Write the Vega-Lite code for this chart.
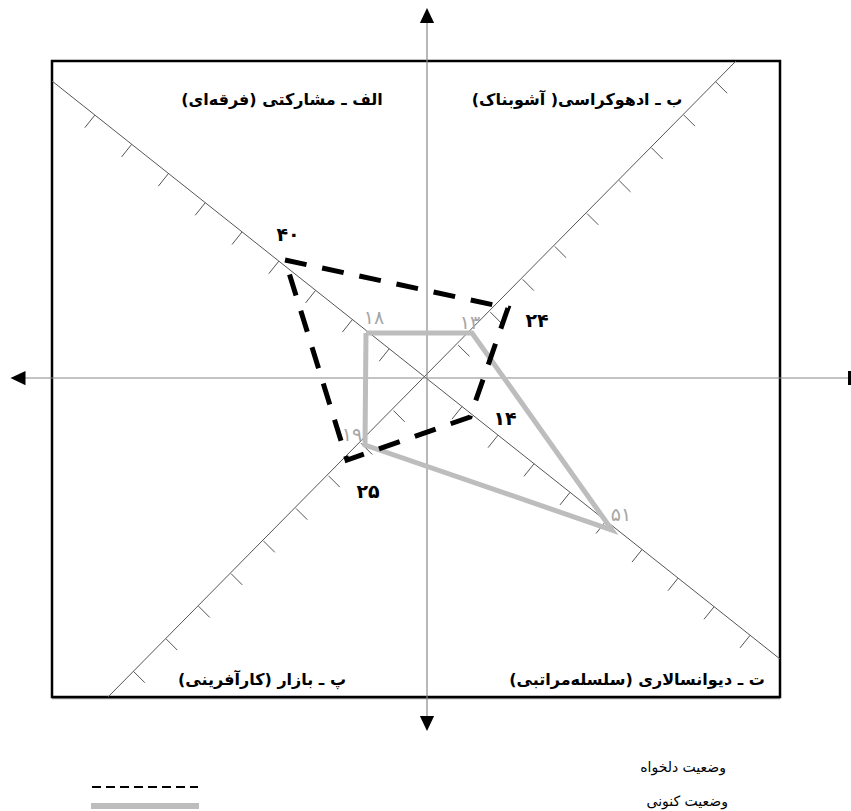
{
  "$schema": "https://vega.github.io/schema/vega-lite/v6.json",
  "width": 851,
  "height": 811,
  "autosize": {"type": "fit", "contains": "padding"},
  "padding": 0,
  "background": "white",
  "config": {"view": {"stroke": null}},
  "datasets": {
    "box": [{"x": -374, "y": 317, "x2": 354, "y2": -319}],
    "boxShadow": [{"x": -374, "y": -320.5, "x2": 354, "y2": -320.5}],
    "axes": [
      {"x": 1, "y": 355, "x2": 1, "y2": -338},
      {"x": -401, "y": 0, "x2": 423, "y2": 0}
    ],
    "endbar": [{"x": 423.5, "y": -7, "x2": 423.5, "y2": 7}],
    "arrows": [
      {"x": 1, "y": 362.5, "dir": "up"},
      {"x": 1, "y": -345.5, "dir": "down"},
      {"x": -408, "y": 0, "dir": "left"}
    ],
    "diag": [
      {"x": -374, "y": 297, "x2": 354, "y2": -281},
      {"x": -318, "y": -319, "x2": 310, "y2": 317},
      {"x": -36.8, "y": 29.2, "x2": -46.8, "y2": 16.7},
      {"x": -73.6, "y": 58.4, "x2": -83.6, "y2": 45.9},
      {"x": -110.4, "y": 87.6, "x2": -120.4, "y2": 75.1},
      {"x": -147.2, "y": 116.8, "x2": -157.2, "y2": 104.3},
      {"x": -184, "y": 146, "x2": -194, "y2": 133.5},
      {"x": -220.8, "y": 175.2, "x2": -230.8, "y2": 162.7},
      {"x": -257.6, "y": 204.4, "x2": -267.6, "y2": 191.9},
      {"x": -294.4, "y": 233.6, "x2": -304.4, "y2": 221.1},
      {"x": -331.2, "y": 262.8, "x2": -341.2, "y2": 250.3},
      {"x": 36, "y": -28.6, "x2": 26, "y2": -41.1},
      {"x": 72, "y": -57.2, "x2": 62, "y2": -69.7},
      {"x": 108, "y": -85.8, "x2": 98, "y2": -98.3},
      {"x": 144, "y": -114.4, "x2": 134, "y2": -126.9},
      {"x": 180, "y": -143, "x2": 170, "y2": -155.5},
      {"x": 216, "y": -171.6, "x2": 206, "y2": -184.1},
      {"x": 252, "y": -200.2, "x2": 242, "y2": -212.7},
      {"x": 288, "y": -228.8, "x2": 278, "y2": -241.3},
      {"x": 324, "y": -257.4, "x2": 314, "y2": -269.9},
      {"x": 32.2, "y": 32.9, "x2": 43.5, "y2": 21.6},
      {"x": 64.4, "y": 65.8, "x2": 75.7, "y2": 54.5},
      {"x": 96.6, "y": 98.7, "x2": 107.9, "y2": 87.4},
      {"x": 128.8, "y": 131.6, "x2": 140.1, "y2": 120.3},
      {"x": 161, "y": 164.5, "x2": 172.3, "y2": 153.2},
      {"x": 193.2, "y": 197.4, "x2": 204.5, "y2": 186.1},
      {"x": 225.4, "y": 230.3, "x2": 236.7, "y2": 219},
      {"x": 257.6, "y": 263.2, "x2": 268.9, "y2": 251.9},
      {"x": 289.8, "y": 296.1, "x2": 301.1, "y2": 284.8},
      {"x": -32.5, "y": -32.6, "x2": -21.2, "y2": -43.9},
      {"x": -65, "y": -65.2, "x2": -53.7, "y2": -76.5},
      {"x": -97.5, "y": -97.8, "x2": -86.2, "y2": -109.1},
      {"x": -130, "y": -130.4, "x2": -118.7, "y2": -141.7},
      {"x": -162.5, "y": -163, "x2": -151.2, "y2": -174.3},
      {"x": -195, "y": -195.6, "x2": -183.7, "y2": -206.9},
      {"x": -227.5, "y": -228.2, "x2": -216.2, "y2": -239.5},
      {"x": -260, "y": -260.8, "x2": -248.7, "y2": -272.1},
      {"x": -292.5, "y": -293.4, "x2": -281.2, "y2": -304.7}
    ],
    "current": [
      {"o": 1, "x": -60, "y": 45, "v": 18},
      {"o": 2, "x": 46, "y": 45, "v": 13},
      {"o": 3, "x": 186, "y": -152, "v": 51},
      {"o": 4, "x": -61, "y": -67, "v": 19},
      {"o": 5, "x": -60, "y": 45, "v": 18}
    ],
    "desired": [
      {"o": 1, "x": -141, "y": 118, "v": 40},
      {"o": 2, "x": 82, "y": 70, "v": 24},
      {"o": 3, "x": 44, "y": -39, "v": 14},
      {"o": 4, "x": -79, "y": -82, "v": 25},
      {"o": 5, "x": -141, "y": 118, "v": 40}
    ],
    "numsBlack": [
      {"x": -138, "y": 143, "t": "۴۰"},
      {"x": 111, "y": 57, "t": "۲۴"},
      {"x": 79, "y": -41, "t": "۱۴"},
      {"x": -58, "y": -114, "t": "۲۵"}
    ],
    "numsGray": [
      {"x": -52, "y": 60, "t": "۱۸"},
      {"x": 44, "y": 55, "t": "۱۳"},
      {"x": -74, "y": -57, "t": "۱۹"},
      {"x": 195, "y": -137, "t": "۵۱"}
    ],
    "cats": [
      {"x": -144, "y": 278, "t": "الف ـ مشارکتی (فرقه‌ای)"},
      {"x": 151, "y": 278, "t": "ب ـ ادهوکراسی( آشوبناک)"},
      {"x": -164, "y": -302, "t": "پ ـ بازار  (کارآفرینی)"},
      {"x": 211, "y": -302, "t": "ت ـ دیوانسالاری (سلسله‌مراتبی)"}
    ],
    "legendText": [
      {"x": 300, "y": -390, "t": "وضعیت دلخواه"},
      {"x": 302, "y": -424, "t": "وضعیت کنونی"}
    ],
    "legendDash": [{"x": -334, "y": -409, "x2": -228, "y2": -409}],
    "legendGray": [{"x": -335, "y": -428, "x2": -227, "y2": -428}]
  },
  "encoding": {
    "x": {"field": "x", "type": "quantitative", "axis": null, "scale": {"domain": [-426, 425], "nice": false, "zero": false}},
    "y": {"field": "y", "type": "quantitative", "axis": null, "scale": {"domain": [-433, 378], "nice": false, "zero": false}}
  },
  "layer": [
    {
      "data": {"name": "boxShadow"},
      "mark": {"type": "rule", "color": "#999999", "strokeWidth": 1.5},
      "encoding": {"x2": {"field": "x2"}, "y2": {"field": "y2"}}
    },
    {
      "data": {"name": "box"},
      "mark": {"type": "rect", "filled": false, "stroke": "black", "strokeWidth": 2.5},
      "encoding": {"x2": {"field": "x2"}, "y2": {"field": "y2"}}
    },
    {
      "data": {"name": "diag"},
      "mark": {"type": "rule", "color": "#555555", "strokeWidth": 1},
      "encoding": {"x2": {"field": "x2"}, "y2": {"field": "y2"}}
    },
    {
      "data": {"name": "axes"},
      "mark": {"type": "rule", "color": "#888888", "strokeWidth": 1.2},
      "encoding": {"x2": {"field": "x2"}, "y2": {"field": "y2"}}
    },
    {
      "data": {"name": "endbar"},
      "mark": {"type": "rule", "color": "black", "strokeWidth": 3},
      "encoding": {"x2": {"field": "x2"}, "y2": {"field": "y2"}}
    },
    {
      "data": {"name": "arrows"},
      "transform": [{"filter": "datum.dir === 'up'"}],
      "mark": {"type": "point", "shape": "M0,-1L-0.95,1L0.95,1Z", "size": 225, "filled": true, "color": "black", "opacity": 1}
    },
    {
      "data": {"name": "arrows"},
      "transform": [{"filter": "datum.dir === 'down'"}],
      "mark": {"type": "point", "shape": "M0,1L-0.95,-1L0.95,-1Z", "size": 225, "filled": true, "color": "black", "opacity": 1}
    },
    {
      "data": {"name": "arrows"},
      "transform": [{"filter": "datum.dir === 'left'"}],
      "mark": {"type": "point", "shape": "M-1,0L1,-0.95L1,0.95Z", "size": 225, "filled": true, "color": "black", "opacity": 1}
    },
    {
      "data": {"name": "current"},
      "mark": {"type": "line", "color": "#bdbdbd", "strokeWidth": 5, "strokeJoin": "miter", "strokeCap": "butt"},
      "encoding": {"order": {"field": "o", "type": "quantitative"}}
    },
    {
      "data": {"name": "desired"},
      "mark": {"type": "line", "color": "black", "strokeWidth": 5, "strokeDash": [22, 16], "strokeJoin": "miter", "strokeCap": "butt"},
      "encoding": {"order": {"field": "o", "type": "quantitative"}}
    },
    {
      "data": {"name": "numsBlack"},
      "mark": {"type": "text", "font": "DejaVu Sans", "fontSize": 19, "fontWeight": "bold", "color": "black", "align": "center", "baseline": "middle"},
      "encoding": {"text": {"field": "t"}}
    },
    {
      "data": {"name": "numsGray"},
      "mark": {"type": "text", "font": "DejaVu Sans", "fontSize": 19, "color": "#a6a6a6", "align": "center", "baseline": "middle"},
      "encoding": {"text": {"field": "t"}}
    },
    {
      "data": {"name": "cats"},
      "mark": {"type": "text", "font": "DejaVu Sans", "fontSize": 16, "fontWeight": "bold", "color": "black", "align": "center", "baseline": "middle"},
      "encoding": {"text": {"field": "t"}}
    },
    {
      "data": {"name": "legendText"},
      "mark": {"type": "text", "font": "DejaVu Sans", "fontSize": 14, "color": "black", "align": "right", "baseline": "middle"},
      "encoding": {"text": {"field": "t"}}
    },
    {
      "data": {"name": "legendDash"},
      "mark": {"type": "rule", "color": "black", "strokeWidth": 2, "strokeDash": [9, 5]},
      "encoding": {"x2": {"field": "x2"}, "y2": {"field": "y2"}}
    },
    {
      "data": {"name": "legendGray"},
      "mark": {"type": "rule", "color": "#bdbdbd", "strokeWidth": 6},
      "encoding": {"x2": {"field": "x2"}, "y2": {"field": "y2"}}
    }
  ]
}
